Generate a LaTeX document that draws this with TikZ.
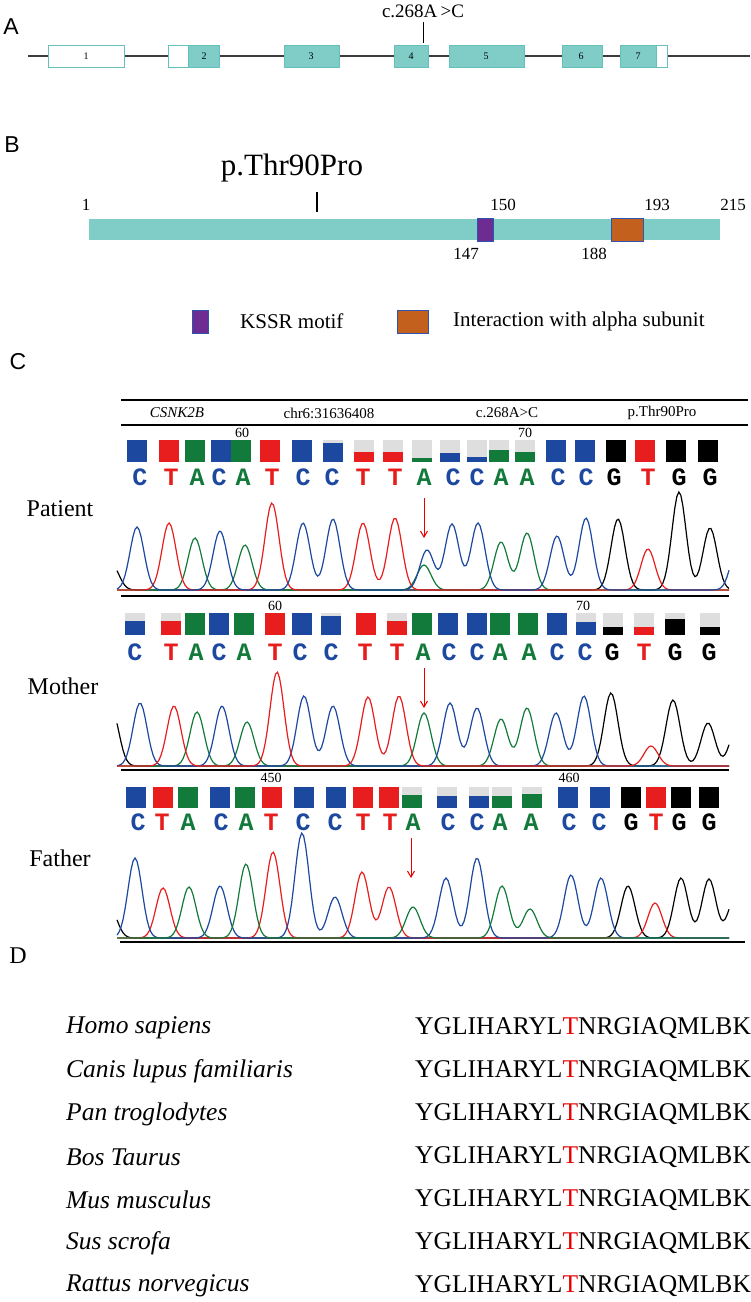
\documentclass[tikz,border=0pt]{standalone}
\usepackage{fontspec}
\setmainfont{Liberation Serif}
\newfontfamily\sansf{Liberation Sans}
\newfontfamily\monof{Liberation Mono}
\usetikzlibrary{arrows.meta}
\definecolor{teal1}{RGB}{128,204,198}
\definecolor{tealb}{RGB}{100,192,184}
\definecolor{cB}{RGB}{28,72,160}
\definecolor{cR}{RGB}{232,30,30}
\definecolor{cG}{RGB}{18,122,58}
\definecolor{cK}{RGB}{0,0,0}
\definecolor{cgray}{RGB}{222,222,222}
\definecolor{kssr}{RGB}{108,44,146}
\definecolor{alphac}{RGB}{196,96,30}
\definecolor{bdr}{RGB}{45,85,175}
\definecolor{geneline}{RGB}{60,60,60}
\definecolor{mutred}{RGB}{230,0,0}
\newcommand\pk[2]{+(#2)*exp(-min(((\x-(#1))/7)*((\x-(#1))/7)/2,16))}
\newcommand\trace[3]{\draw[#1,line width=1.2pt] plot[domain=117:729,samples=306] (\x,{#2-(0#3)});}
\begin{document}
\begin{tikzpicture}[x=1pt,y=-1pt,
 panel/.style={font=\sansf\fontsize{23}{23}\selectfont, inner sep=0},
 exn/.style={font=\fontsize{10}{10}\selectfont, inner sep=0},
 bnum/.style={font=\fontsize{17}{17}\selectfont, inner sep=0},
 legtxt/.style={font=\fontsize{21}{21}\selectfont, inner sep=0, anchor=west},
 hdr/.style={font=\fontsize{15}{15}\selectfont, inner sep=0},
 posnum/.style={font=\fontsize{14}{14}\selectfont, inner sep=0},
 callx/.style={font=\monof\bfseries\fontsize{25}{25}\selectfont, inner sep=0},
 who/.style={font=\fontsize{24}{24}\selectfont, inner sep=0},
 spc/.style={font=\itshape\fontsize{25.5}{25.5}\selectfont, inner sep=0, anchor=west},
 seq/.style={font=\fontsize{25.5}{25.5}\selectfont, inner sep=0, anchor=west},
 hrule/.style={line width=2pt},
 exbox/.style={draw=tealb, line width=0.8pt},
 mutarrow/.style={draw=mutred, line width=1pt, -{Straight Barb[length=6pt,width=7pt]}},
]
\fill[white] (0,0) rectangle (751,1302);
\useasboundingbox (0,0) rectangle (751,1302);

% ---------- Panel A ----------
\node[panel] (lA) at (11,27) {A};
\coordinate (gL) at (28,56);
\coordinate (gR) at (750,56);
\draw[geneline, line width=1.4pt] (gL) -- (gR);
\draw[exbox, fill=white] (48,45) rectangle (124,67);
\draw[exbox, fill=white] (168,45) rectangle (188,67);
\draw[exbox, fill=teal1] (188,45) rectangle (219,67);
\draw[exbox, fill=teal1] (284,45) rectangle (339,67);
\draw[exbox, fill=teal1] (394,45) rectangle (428,67);
\draw[exbox, fill=teal1] (449,45) rectangle (524,67);
\draw[exbox, fill=teal1] (562,45) rectangle (602,67);
\draw[exbox, fill=white] (656,45) rectangle (667,67);
\draw[exbox, fill=teal1] (620,45) rectangle (656,67);
\foreach \xx/\nn in {86/1,204/2,311/3,411/4,486/5,581/6,638/7}
  \node[exn] (ex\nn) at (\xx,56) {\nn};
\node[font=\fontsize{19}{19}\selectfont, inner sep=0] (mutA) at (423,11) {c.268A\,>C};
\coordinate (tA1) at (423,22);
\coordinate (tA2) at (423,43);
\draw[line width=1pt] (tA1) -- (tA2);

% ---------- Panel B ----------
\node[panel] (lB) at (12,145) {B};
\node[font=\fontsize{31}{31}\selectfont, inner sep=0] (pThr) at (292,168) {p.Thr90Pro};
\coordinate (tB1) at (317,192);
\coordinate (tB2) at (317,212);
\draw[line width=2.6pt] (tB1) -- (tB2);
\fill[teal1] (89,219) rectangle (720,240);
\draw[bdr, fill=kssr, line width=1pt] (477,218) rectangle (493,241);
\draw[bdr, fill=alphac, line width=1pt] (611,218) rectangle (643,241);
\node[bnum] (n1) at (86,205) {1};
\node[bnum] (n150) at (503,205) {150};
\node[bnum] (n193) at (657,205) {193};
\node[bnum] (n215) at (733,205) {215};
\node[bnum] (n147) at (466,254) {147};
\node[bnum] (n188) at (594,254) {188};
\draw[bdr, fill=kssr, line width=1pt] (192,310) rectangle (208,333);
\node[legtxt] (lgK) at (240,321) {KSSR motif};
\draw[bdr, fill=alphac, line width=1pt] (397,310) rectangle (428,333);
\node[legtxt] (lgA) at (453,321) {Interaction with alpha subunit};

% ---------- Panel C ----------
\node[panel] (lC) at (18,362) {C};
\coordinate (h1a) at (121,400); \coordinate (h1b) at (748,400);
\coordinate (h2a) at (121,425); \coordinate (h2b) at (748,425);
\draw[hrule] (h1a) -- (h1b);
\draw[line width=1.5pt] (h2a) -- (h2b);
\node[hdr, font=\itshape\fontsize{15}{15}\selectfont] (hG) at (177,413) {CSNK2B};
\node[hdr] (hChr) at (329,413) {chr6:31636408};
\node[hdr] (hC) at (507,413) {c.268A>C};
\node[hdr] (hP) at (662,413) {p.Thr90Pro};

% Patient
\node[posnum] (p60) at (242,433) {60};
\node[posnum] (p70) at (525,433) {70};
\foreach \xx/\cc/\ff in {137/cB/1,169/cR/1,195/cG/1,221/cB/1,241/cG/1,270/cR/1,302/cB/1,333/cB/.85,364/cR/.45,393/cR/.45,422/cG/.2,450/cB/.4,477/cB/.25,499/cG/.55,525/cG/.45,556/cB/1,585/cB/1,616/cK/1,645/cR/1,676/cK/1,708/cK/1}
{ \fill[cgray] (\xx-10,440) rectangle (\xx+10,462);
  \fill[\cc] (\xx-10,{462-22*\ff}) rectangle (\xx+10,462); }
\foreach \xx/\ll/\cc [count=\i] in {140/C/cB,171/T/cR,197/A/cG,219/C/cB,243/A/cG,272/T/cR,303/C/cB,332/C/cB,363/T/cR,395/T/cR,424/A/cG,453/C/cB,477/C/cB,501/A/cG,527/A/cG,558/C/cB,586/C/cB,614/G/cK,648/T/cR,679/G/cK,710/G/cK}
  \node[callx, text=\cc] (pL\i) at (\xx,477) {\ll};
\node[who] (wP) at (60,509) {Patient};
\trace{cK}{590}{\pk{112}{25}\pk{618}{71}\pk{679}{98}\pk{710}{62}}
\trace{cG}{590}{\pk{195}{52}\pk{245}{45}\pk{424}{25}\pk{501}{48}\pk{527}{57}}
\trace{cR}{590}{\pk{169}{67}\pk{272}{87}\pk{363}{67}\pk{395}{72}\pk{648}{41}}
\trace{cB}{590}{\pk{137}{63}\pk{220}{59}\pk{303}{67}\pk{333}{71}\pk{427}{40}\pk{452}{66}\pk{478}{67}\pk{557}{54}\pk{586}{72}\pk{738}{45}}
\coordinate (pa1) at (424,498); \coordinate (pa2) at (424,538);
\draw[mutarrow] (pa1) -- (pa2);
\coordinate (s1a) at (121,596); \coordinate (s1b) at (729,596);
\draw[hrule] (s1a) -- (s1b);

% Mother
\node[posnum] (m60) at (275,606) {60};
\node[posnum] (m70) at (583,606) {70};
\foreach \xx/\cc/\ff in {135/cB/.65,171/cR/.65,195/cG/1,219/cB/1,244/cG/1,275/cR/1,302/cB/1,331/cB/.85,366/cR/1,397/cR/.65,422/cG/1,448/cB/1,477/cB/1,500/cG/1,528/cG/1,557/cB/1,586/cB/.6,613/cK/.35,644/cR/.35,675/cK/.75,710/cK/.35}
{ \fill[cgray] (\xx-10,613) rectangle (\xx+10,635);
  \fill[\cc] (\xx-10,{635-22*\ff}) rectangle (\xx+10,635); }
\foreach \xx/\ll/\cc [count=\i] in {135/C/cB,171/T/cR,196/A/cG,219/C/cB,244/A/cG,275/T/cR,300/C/cB,331/C/cB,365/T/cR,397/T/cR,423/A/cG,449/C/cB,477/C/cB,500/A/cG,529/A/cG,557/C/cB,585/C/cB,612/G/cK,644/T/cR,675/G/cK,709/G/cK}
  \node[callx, text=\cc] (mL\i) at (\xx,652) {\ll};
\node[who] (wM) at (63,686) {Mother};
\trace{cK}{766}{\pk{112}{55}\pk{611}{73}\pk{673}{66}\pk{708}{43}\pk{737}{40}}
\trace{cG}{766}{\pk{197}{54}\pk{247}{44}\pk{424}{53}\pk{501}{47}\pk{527}{58}}
\trace{cB}{766}{\pk{140}{63}\pk{222}{60}\pk{304}{70}\pk{333}{60}\pk{450}{63}\pk{477}{58}\pk{556}{53}\pk{584}{70}}
\trace{cR}{766}{\pk{174}{60}\pk{277}{94}\pk{368}{69}\pk{399}{70}\pk{651}{20}}
\coordinate (ma1) at (424,668); \coordinate (ma2) at (424,708);
\draw[mutarrow] (ma1) -- (ma2);
\coordinate (s2a) at (121,770); \coordinate (s2b) at (729,770);
\draw[hrule] (s2a) -- (s2b);

% Father
\node[posnum] (f450) at (271,778) {450};
\node[posnum] (f460) at (569,778) {460};
\foreach \xx/\cc/\ff in {136/cB/1,163/cR/1,188/cG/1,220/cB/1,245/cG/1,272/cR/1,304/cB/1,336/cB/1,363/cR/1,389/cR/1,412/cG/.6,447/cB/.55,479/cB/.55,502/cG/.55,532/cG/.65,568/cB/1,600/cB/1,631/cK/1,656/cR/1,681/cK/1,709/cK/1}
{ \fill[cgray] (\xx-10,787) rectangle (\xx+10,808);
  \fill[\cc] (\xx-10,{808-21*\ff}) rectangle (\xx+10,808); }
\foreach \xx/\ll/\cc [count=\i] in {138/C/cB,162/T/cR,188/A/cG,221/C/cB,246/A/cG,271/T/cR,303/C/cB,335/C/cB,363/T/cR,390/T/cR,413/A/cG,448/C/cB,477/C/cB,500/A/cG,531/A/cG,569/C/cB,599/C/cB,631/G/cK,656/T/cR,679/G/cK,709/G/cK}
  \node[callx, text=\cc] (fL\i) at (\xx,822) {\ll};
\node[who] (wF) at (60,858) {Father};
\trace{cK}{938}{\pk{110}{30}\pk{628}{52}\pk{681}{60}\pk{709}{59}\pk{735}{40}}
\trace{cR}{938}{\pk{163}{50}\pk{273}{86}\pk{362}{66}\pk{389}{51}\pk{655}{35}}
\trace{cB}{938}{\pk{135}{80}\pk{220}{52}\pk{302}{105}\pk{335}{41}\pk{446}{60}\pk{477}{80}\pk{571}{63}\pk{601}{60}}
\trace{cG}{938}{\pk{189}{51}\pk{246}{74}\pk{413}{31}\pk{502}{52}\pk{530}{29}}
\coordinate (fa1) at (411,838); \coordinate (fa2) at (411,878);
\draw[mutarrow] (fa1) -- (fa2);
\coordinate (s3a) at (120,942); \coordinate (s3b) at (745,942);
\draw[hrule] (s3a) -- (s3b);

% ---------- Panel D ----------
\node[font=\fontsize{24}{24}\selectfont, inner sep=0] (lD) at (18,956) {D};
\foreach \sp [count=\i] in {Homo sapiens,Canis lupus familiaris,Pan troglodytes,Bos Taurus,Mus musculus,Sus scrofa,Rattus norvegicus}
{
  \node[spc] (sp\i) at (66,{985+43*\i}) {\sp};
  \node[seq] (sq\i) at (415,{985+43*\i}) {YGLIHARYL\textcolor{mutred}{T}NRGIAQMLBK};
}
\end{tikzpicture}
\end{document}
